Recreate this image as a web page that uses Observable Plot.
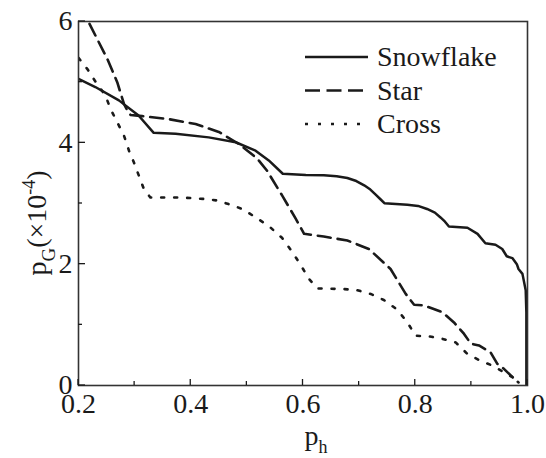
<!DOCTYPE html>
<html><head><meta charset="utf-8">
<script src="https://cdn.jsdelivr.net/npm/d3@7"></script>
<script src="https://cdn.jsdelivr.net/npm/@observablehq/plot@0.6"></script>
<style>body{margin:0;background:#fff}</style>
</head><body><div id="chart"></div>
<script>
const seriesNames = ["Snowflake", "Star", "Cross"];
const snowflakeX = [0.2, 0.230, 0.272, 0.307, 0.334, 0.373, 0.432, 0.480, 0.5155, 0.539, 0.564, 0.605, 0.637, 0.660, 0.679, 0.695, 0.709, 0.720, 0.729, 0.738, 0.745, 0.786, 0.805, 0.821, 0.835, 0.845, 0.853, 0.860, 0.893, 0.911, 0.925, 0.943, 0.955, 0.963, 0.973, 0.981, 0.984, 0.991, 0.9968, 0.998, 0.998];
const snowflakeY = [5.055, 4.92, 4.70, 4.45, 4.165, 4.15, 4.09, 4.01, 3.87, 3.71, 3.49, 3.47, 3.465, 3.45, 3.42, 3.37, 3.30, 3.23, 3.15, 3.07, 3.005, 2.98, 2.96, 2.91, 2.85, 2.77, 2.70, 2.62, 2.60, 2.50, 2.345, 2.32, 2.25, 2.13, 2.10, 2.00, 1.92, 1.84, 1.57, 1.2, 0];
const starX = [0.2196, 0.251, 0.269, 0.281, 0.290, 0.293, 0.3135, 0.361, 0.4086, 0.450, 0.486, 0.5185, 0.536, 0.563, 0.587, 0.602, 0.637, 0.679, 0.7175, 0.756, 0.783, 0.798, 0.8155, 0.848, 0.869, 0.887, 0.899, 0.9135, 0.934, 0.946, 0.958, 0.973, 0.984];
const starY = [5.96, 5.39, 5.0, 4.64, 4.48, 4.46, 4.44, 4.39, 4.31, 4.18, 3.98, 3.74, 3.54, 3.13, 2.75, 2.50, 2.455, 2.39, 2.25, 1.92, 1.51, 1.33, 1.32, 1.21, 1.04, 0.85, 0.69, 0.66, 0.55, 0.36, 0.275, 0.14, 0.05];
const crossX = [0.2, 0.2155, 0.233, 0.248, 0.257, 0.269, 0.281, 0.290, 0.2986, 0.3075, 0.3164, 0.328, 0.376, 0.40, 0.4234, 0.447, 0.471, 0.4946, 0.5155, 0.539, 0.563, 0.581, 0.5957, 0.6105, 0.6255, 0.673, 0.697, 0.7205, 0.744, 0.768, 0.786, 0.8007, 0.8245, 0.848, 0.872, 0.893, 0.9135, 0.937, 0.958, 0.982];
const crossY = [5.4, 5.22, 4.97, 4.78, 4.56, 4.34, 4.12, 3.87, 3.68, 3.46, 3.24, 3.10, 3.10, 3.09, 3.075, 3.05, 2.98, 2.90, 2.77, 2.63, 2.43, 2.20, 1.99, 1.76, 1.60, 1.59, 1.57, 1.51, 1.41, 1.25, 1.04, 0.82, 0.81, 0.77, 0.71, 0.52, 0.42, 0.33, 0.22, 0.09];
const xMajorTicks = [0.2, 0.4, 0.6, 0.8, 1.0];
const xMinorTicks = [0.3, 0.5, 0.7, 0.9];
const yMajorTicks = [0, 2, 4, 6];
const yMinorTicks = [1, 3, 5];

const toRows = (xs, ys) => xs.map((x, i) => ({x, y: ys[i]}));
const snowData = toRows(snowflakeX, snowflakeY);
const starData = toRows(starX, starY);
const crossData = toRows(crossX, crossY);

const ink = "#1a1a1a";
const dashes = [null, "13,7", "3,10"];
const font = "'Liberation Serif', 'Times New Roman', serif";

const chart = Plot.plot({
  width: 546, height: 458,
  marginLeft: 78, marginRight: 19, marginTop: 21, marginBottom: 73,
  style: {fontFamily: font, fontSize: "28px", color: ink, background: "#fff", overflow: "visible"},
  x: {domain: [0.2, 1.0]},
  y: {domain: [0, 6]},
  marks: [
    Plot.axisX(xMajorTicks, {tickSize: 0, tickPadding: 8, tickFormat: d => d.toFixed(1), label: null, fontFamily: font}),
    Plot.axisY(yMajorTicks, {tickSize: 0, tickPadding: 6, tickFormat: d => String(d), label: null, fontFamily: font}),
    Plot.line(snowData, {x: "x", y: "y", stroke: ink, strokeWidth: 2.5, clip: true}),
    Plot.line(starData, {x: "x", y: "y", stroke: ink, strokeWidth: 2.6, strokeDasharray: dashes[1], clip: true}),
    Plot.line(crossData, {x: "x", y: "y", stroke: ink, strokeWidth: 2.6, strokeDasharray: dashes[2], clip: true}),
    Plot.frame({stroke: "#333", strokeWidth: 1.6})
  ]
});
document.getElementById("chart").append(chart);

const svg = d3.select(chart);
const sx = chart.scale("x"), sy = chart.scale("y");
const [x0] = sx.range, [y0] = sy.range;
// inward ticks
const tk = svg.append("g").attr("stroke", ink).attr("stroke-width", 1.3);
xMajorTicks.forEach(v => tk.append("line").attr("x1", sx.apply(v)).attr("x2", sx.apply(v)).attr("y1", y0).attr("y2", y0 - 6));
xMinorTicks.forEach(v => tk.append("line").attr("x1", sx.apply(v)).attr("x2", sx.apply(v)).attr("y1", y0).attr("y2", y0 - 4));
yMajorTicks.forEach(v => tk.append("line").attr("y1", sy.apply(v)).attr("y2", sy.apply(v)).attr("x1", x0).attr("x2", x0 + 7));
yMinorTicks.forEach(v => tk.append("line").attr("y1", sy.apply(v)).attr("y2", sy.apply(v)).attr("x1", x0).attr("x2", x0 + 4));

// legend
const legend = svg.append("g").attr("font-family", font).attr("font-size", 28).attr("fill", ink).attr("text-anchor", "start");
seriesNames.forEach((name, i) => {
  const cy = 57 + i * 33.5;
  legend.append("line").attr("x1", 305).attr("x2", 368).attr("y1", cy).attr("y2", cy)
    .attr("stroke", ink).attr("stroke-width", 2.6)
    .attr("stroke-dasharray", i === 0 ? null : (i === 1 ? "15,6.5" : "3,10"));
  legend.append("text").attr("x", 377).attr("y", cy + 9).text(name);
});
// x axis label p_h
const xl = svg.append("text").attr("font-family", font).attr("font-size", 28).attr("fill", ink)
  .attr("x", 316).attr("y", 445).attr("text-anchor", "middle");
xl.append("tspan").text("p");
xl.append("tspan").attr("font-size", 18).attr("dy", 8).text("h");
// y axis label p_G (x10^-4)
const yl = svg.append("text").attr("font-family", font).attr("font-size", 28).attr("fill", ink)
  .attr("text-anchor", "middle").attr("transform", "translate(46,223) rotate(-90)");
yl.append("tspan").text("p");
yl.append("tspan").attr("font-size", 19).attr("dy", 9).text("G");
yl.append("tspan").attr("dy", -9).text("(×10");
yl.append("tspan").attr("font-size", 18).attr("dy", -11).text("-4");
yl.append("tspan").attr("dy", 11).text(")");
</script>
</body></html>
